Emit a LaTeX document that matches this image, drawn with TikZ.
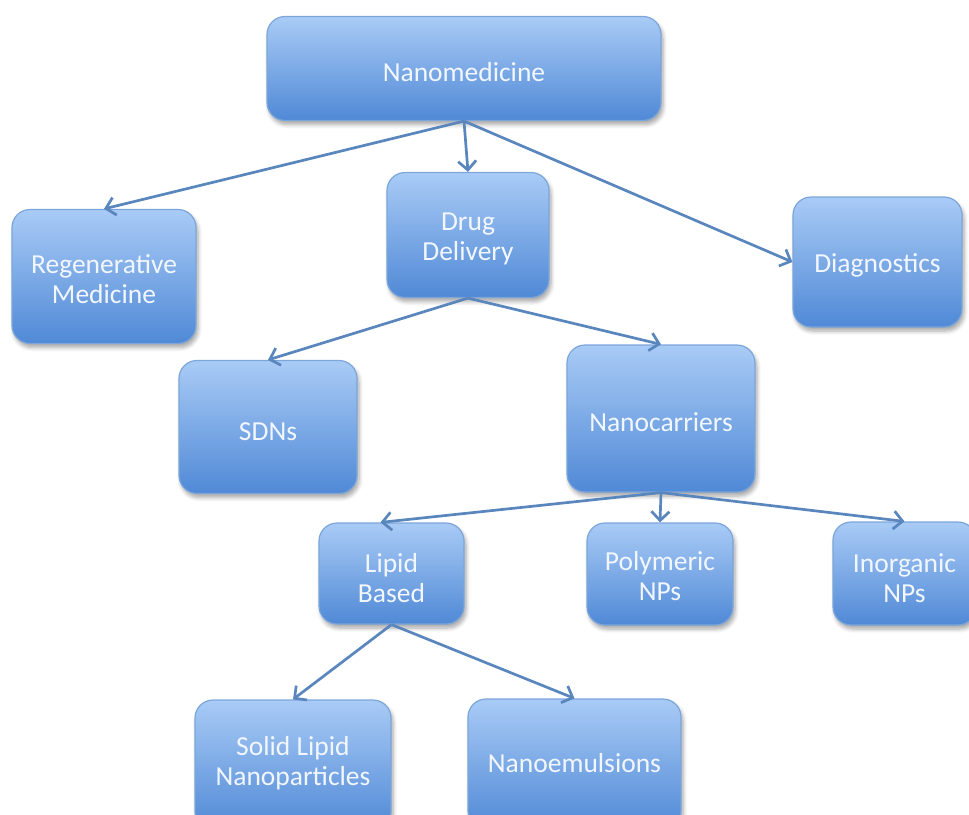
\documentclass[tikz,border=0pt]{standalone}
\usepackage{fontspec}
\setmainfont{Carlito}
\usetikzlibrary{arrows.meta,shadows.blur}
\definecolor{boxtop}{HTML}{A9CBF6}
\definecolor{boxbot}{HTML}{5089D6}
\definecolor{boxline}{HTML}{7CA6DA}
\definecolor{arrowc}{HTML}{5A86BE}
\definecolor{txtc}{HTML}{F2F7FF}
\newcommand\bt[2][-12pt]{\raisebox{#1}[0pt][0pt]{\begin{tabular}{@{}c@{}}#2\end{tabular}}}
\tikzset{
  nbox/.style={rectangle, rounded corners=18pt, draw=boxline, line width=1.2pt,
    top color=boxtop, bottom color=boxbot, text=txtc,
    font=\fontsize{27.5}{30}\selectfont, inner sep=0pt,
    blur shadow={shadow xshift=2pt, shadow yshift=-4pt, shadow blur steps=6, shadow opacity=35, shadow blur radius=4pt}},
  conn/.style={draw=arrowc, line width=2.7pt, -{Straight Barb[length=9pt,width=18pt,line width=2.7pt]}}
}
\begin{document}
\begin{tikzpicture}[x=1pt,y=-1pt]
\useasboundingbox (0,0) rectangle (969,814);
\clip (0,0) rectangle (969,814);
\node[nbox, minimum width=394pt, minimum height=104pt] (nm) at (464,68.5) {\bt[-12.9pt]{Nanomedicine}};
\node[nbox, minimum width=162pt, minimum height=125pt] (dd) at (468,235) {\bt[-10.9pt]{Drug\\Delivery}};
\node[nbox, minimum width=184pt, minimum height=134pt] (rm) at (104,276.5) {\bt[-12.4pt]{Regenerative\\Medicine}};
\node[nbox, minimum width=169pt, minimum height=130pt] (dx) at (877.5,262) {\bt[-10.9pt]{Diagnostics}};
\node[nbox, minimum width=178pt, minimum height=133pt] (sd) at (268,427) {\bt[-13.9pt]{SDNs}};
\node[nbox, minimum width=188pt, minimum height=147pt] (nc) at (661,418.5) {\bt[-13.4pt]{Nanocarriers}};
\node[nbox, minimum width=145pt, minimum height=101pt] (lb) at (391.5,573.5) {\bt[-14.6pt]{Lipid\\Based}};
\node[nbox, minimum width=146pt, minimum height=102pt] (pn) at (660,574) {\bt[-11.9pt]{Polymeric\\NPs}};
\node[nbox, minimum width=143pt, minimum height=103pt] (in) at (904.5,573.5) {\bt[-13.9pt]{Inorganic\\NPs}};
\node[nbox, minimum width=196pt, minimum height=130pt] (sl) at (293,765) {\bt[-6pt]{Solid Lipid\\Nanoparticles}};
\node[nbox, minimum width=213pt, minimum height=130pt] (ne) at (574.5,764) {\bt[-8.9pt]{Nanoemulsions}};
\draw[conn] (nm.south) -- (rm.north);
\draw[conn] (nm.south) -- (dd.north);
\draw[conn] (nm.south) -- (dx.west);
\draw[conn] (dd.south) -- (sd.north);
\draw[conn] (dd.south) -- (nc.north);
\draw[conn] (nc.south) -- ([xshift=-11pt]lb.north);
\draw[conn] (nc.south) -- (pn.north);
\draw[conn] (nc.south) -- (in.north);
\draw[conn] (lb.south) -- (sl.north);
\draw[conn] (lb.south) -- (ne.north);
\end{tikzpicture}
\end{document}
